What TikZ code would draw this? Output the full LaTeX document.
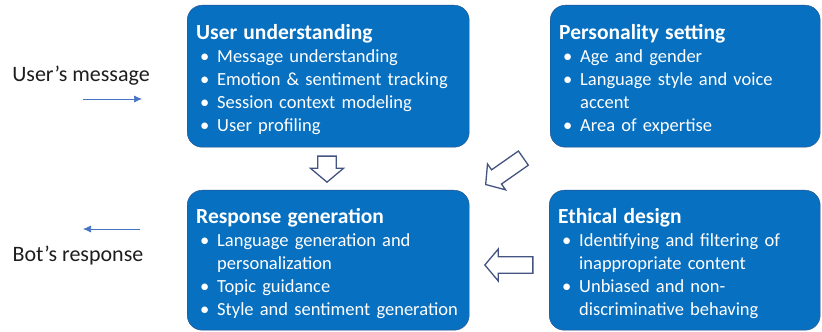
\documentclass[tikz,border=0pt]{standalone}
\usepackage{fontspec}
\setmainfont{Carlito}
\usetikzlibrary{arrows.meta,shapes.arrows}

\definecolor{panelblue}{RGB}{8,112,192}
\definecolor{panelline}{RGB}{40,80,140}
\definecolor{hollowline}{RGB}{68,84,130}
\definecolor{flowblue}{RGB}{68,114,196}
\definecolor{labelgrey}{RGB}{30,30,30}

\tikzset{
  panel/.style={draw=panelline, fill=panelblue, text=white, rounded corners=15pt,
    anchor=north west, inner xsep=9pt, inner ysep=0pt, minimum height=#1,
    align=left, font=\fontsize{18.5}{23}\selectfont},
  hollow/.style={single arrow, draw=hollowline, fill=white, line width=1.3pt,
    inner sep=0pt, single arrow tip angle=100, anchor=tip},
  flow/.style={-{Latex[length=8pt,width=7pt]}, flowblue, line width=0.7pt},
  sidelabel/.style={text=labelgrey, font=\fontsize{22}{26}\selectfont}
}
\newcommand{\ptitle}[1]{\rule{0pt}{21pt}{\fontsize{21.5}{24}\selectfont\bfseries #1}}
\newcommand{\pitem}[1]{\hspace*{4pt}\makebox[17pt][l]{\textbullet}\mbox{#1}}
\newcommand{\pmore}[1]{\hspace*{21pt}\mbox{#1}}

\begin{document}
\begin{tikzpicture}[x=1pt,y=1pt]
  \useasboundingbox (0,0) rectangle (822,332);

  % the four panels
  \node[panel=142pt, text width=264pt] (user) at (187,327) {\ptitle{User understanding}\\
    \pitem{Message understanding}\\ \pitem{Emotion \& sentiment tracking}\\
    \pitem{Session context modeling}\\ \pitem{User profiling}};
  \node[panel=142pt, text width=252pt] (persona) at (550,327) {\ptitle{Personality setting}\\
    \pitem{Age and gender}\\ \pitem{Language style and voice}\\
    \pmore{accent}\\ \pitem{Area of expertise}};
  \node[panel=140pt, text width=264pt] (reply) at (187,142) {\ptitle{Response generation}\\
    \pitem{Language generation and}\\ \pmore{personalization}\\
    \pitem{Topic guidance}\\ \pitem{Style and sentiment generation}};
  \node[panel=140pt, text width=253pt] (ethics) at (549,142) {\ptitle{Ethical design}\\
    \pitem{Identifying and filtering of}\\ \pmore{inappropriate content}\\
    \pitem{Unbiased and non-}\\ \pmore{discriminative behaving}};

  % hollow block arrows between panels
  \node[hollow, rotate=-90, minimum height=26pt, minimum width=33pt, inner ysep=8.5pt] (down) at (327,149) {};
  \node[hollow, rotate=215, minimum height=46pt, minimum width=31pt, inner ysep=8pt] (slant) at (485,147) {};
  \node[hollow, rotate=180, minimum height=48pt, minimum width=32pt, inner ysep=7pt] (back) at (484,67) {};

  % message in, response out
  \node[sidelabel] (msg) at (81,256) {User’s message};
  \coordinate (msgA) at (83,233);
  \coordinate (msgB) at (142,233);
  \draw[flow] (msgA) -- (msgB);
  \node[sidelabel] (bot) at (78,76) {Bot’s response};
  \coordinate (botA) at (140,103);
  \coordinate (botB) at (83,103);
  \draw[flow] (botA) -- (botB);
\end{tikzpicture}
\end{document}
